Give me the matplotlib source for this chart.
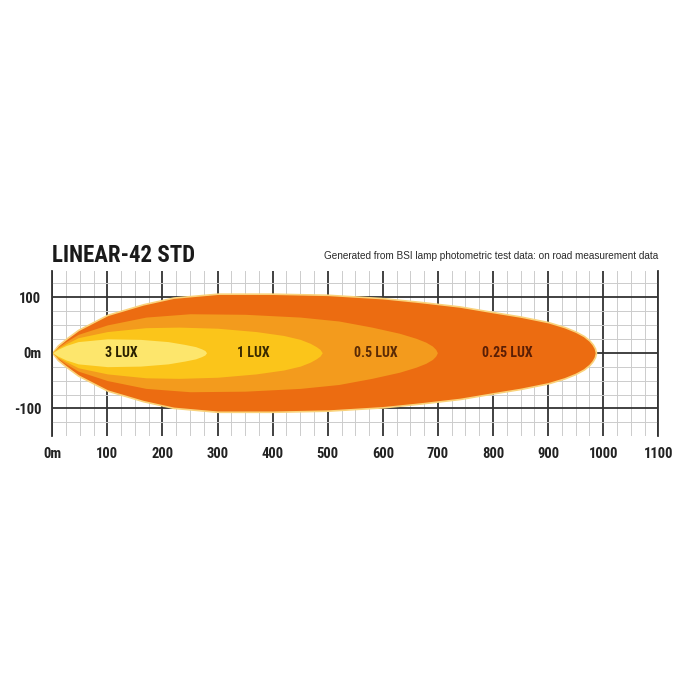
import numpy as np
import matplotlib.pyplot as plt
from matplotlib.ticker import MultipleLocator

# beam pattern: distance ahead (m) and half width either side (m) of each lux zone
x_025 = [0, 10, 25, 47, 100, 165, 220, 300, 400, 500, 600, 670, 740, 800, 850, 900, 930, 950, 965, 975, 981, 985, 987]
w_025 = [0, 13, 25, 41, 68, 87, 99, 106, 106, 104, 98, 91, 83, 73, 65, 55, 46, 38, 30, 22, 15, 8, 0]

x_05 = [0, 10, 25, 47, 100, 170, 250, 350, 450, 520, 580, 630, 660, 678, 690, 696, 699]
w_05 = [0, 10, 20, 33, 50, 64, 70, 69, 64, 57, 46, 35, 26, 19, 12, 6, 0]

x_1 = [0, 10, 25, 47, 100, 170, 230, 300, 370, 420, 450, 468, 479, 486, 490]
w_1 = [0, 8, 16, 27, 38, 45, 46, 44, 38, 31, 24, 17, 11, 6, 0]

x_3 = [0, 10, 25, 47, 100, 160, 210, 240, 260, 271, 277, 280]
w_3 = [0, 6, 13, 20, 25, 24, 20, 15, 11, 7, 4, 0]

zones = [
    (x_025, w_025, '#EC6C11'),
    (x_05, w_05, '#F39B1D'),
    (x_1, w_1, '#FBC51A'),
    (x_3, w_3, '#FDE66C'),
]

lux_labels = ['3 LUX', '1 LUX', '0.5 LUX', '0.25 LUX']
lux_pos = [126, 365, 587, 826]
lux_colors = ['#2a2000', '#3a2a00', '#5a2a05', '#5a1e05']

x_ticks = [0, 100, 200, 300, 400, 500, 600, 700, 800, 900, 1000, 1100]
x_tick_labels = ['0m', '100', '200', '300', '400', '500', '600', '700', '800', '900', '1000', '1100']
y_ticks = [-100, 0, 100]
y_tick_labels = ['-100', '0m', '100']

narrow = ['Roboto Condensed', 'Liberation Sans Narrow', 'DejaVu Sans']

fig = plt.figure(figsize=(7, 7), dpi=100)
ax = fig.add_axes([0.0747, 0.3767, 0.8657, 0.2356])
ax.set_xlim(0, 1100)
ax.set_ylim(-150, 146)

# grid
ax.xaxis.set_minor_locator(MultipleLocator(25))
ax.yaxis.set_minor_locator(MultipleLocator(25))
ax.set_xticks(x_ticks, x_tick_labels)
ax.set_yticks(y_ticks, y_tick_labels)
ax.grid(which='major', color='#333333', lw=1.3)
ax.grid(which='minor', color='#cccccc', lw=0.7)
ax.set_axisbelow(True)
ax.tick_params(which='both', length=0)
ax.tick_params(axis='x', pad=8)
ax.tick_params(axis='y', pad=8)
for t in ax.get_xticklabels() + ax.get_yticklabels():
    t.set_family(narrow)
    t.set_fontstretch('condensed')
    t.set_fontweight('bold')
    t.set_fontsize(10.5)
    t.set_color('#222222')
for s in ['top', 'bottom']:
    ax.spines[s].set_visible(False)
for s in ['left', 'right']:
    ax.spines[s].set_color('#333333')
    ax.spines[s].set_linewidth(1.3)

# lux zones, outermost first
for i, (xs, ws, c) in enumerate(zones):
    xs = np.array(xs)
    ws = np.array(ws)
    if i == 0:
        ax.fill_between(xs, -ws, ws, color=c, edgecolor='#FAD27A', lw=1.2)
    else:
        ax.fill_between(xs, -ws, ws, color=c, lw=0)

for lab, xp, c in zip(lux_labels, lux_pos, lux_colors):
    ax.text(xp, 0, lab, ha='center', va='center', fontsize=10, fontstretch='condensed',
            fontweight='bold', color=c, family=narrow)

fig.text(52 / 700, 1 - 262 / 700, 'LINEAR-42 STD', fontsize=16.5, fontweight='bold',
         fontstretch='condensed', color='#1a1a1a', family=narrow, va='baseline')
fig.text(658 / 700, 1 - 259 / 700,
         'Generated from BSI lamp photometric test data: on road measurement data',
         fontsize=7.2, color='#2a2a2a', family=['Liberation Sans', 'DejaVu Sans'],
         ha='right', va='baseline')

fig.savefig('out.png', dpi=100, facecolor='white')
